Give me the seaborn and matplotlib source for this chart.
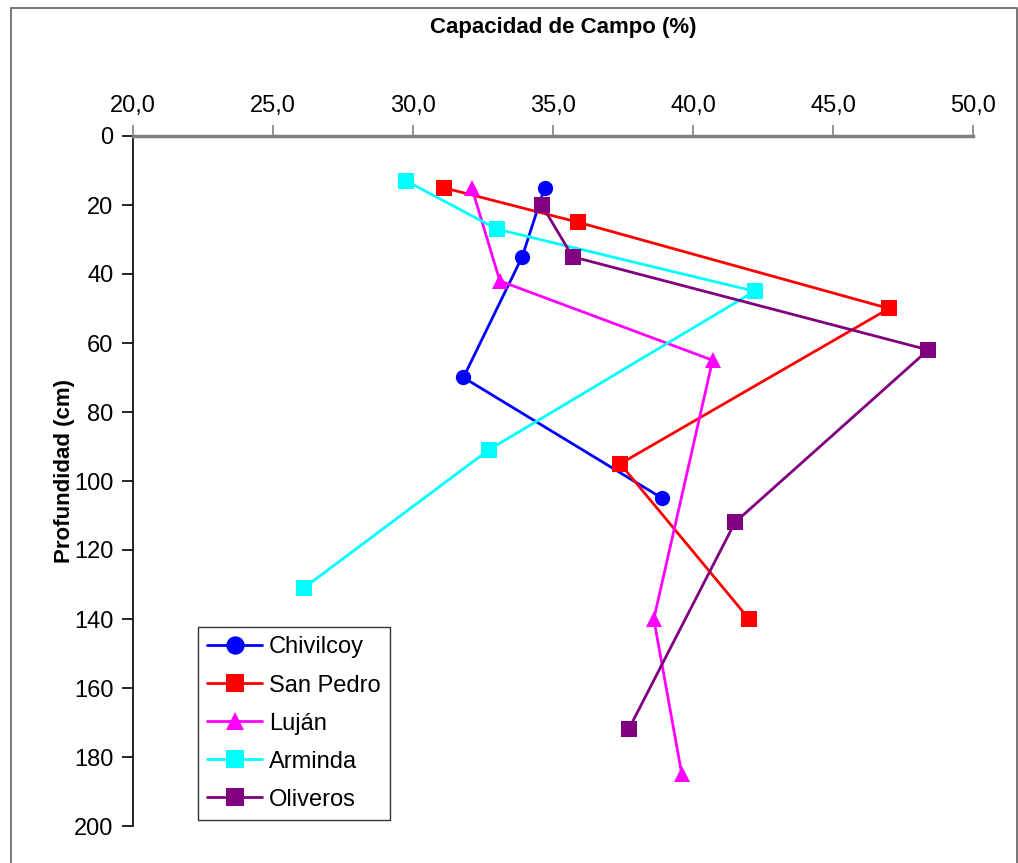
import matplotlib
matplotlib.use("Agg")
import matplotlib.pyplot as plt
import seaborn as sns
import pandas as pd
from matplotlib.patches import Rectangle
from matplotlib.ticker import FuncFormatter

# Field capacity (%) against depth (cm) for each site
chivilcoy_cc = [34.7, 33.9, 31.8, 38.9]
chivilcoy_depth = [15, 35, 70, 105]

san_pedro_cc = [31.1, 35.9, 47.0, 37.4, 42.0]
san_pedro_depth = [15, 25, 50, 95, 140]

lujan_cc = [32.1, 33.1, 40.7, 38.6, 39.6]
lujan_depth = [15, 42, 65, 140, 185]

arminda_cc = [29.75, 33.0, 42.2, 32.7, 26.1]
arminda_depth = [13, 27, 45, 91, 131]

oliveros_cc = [34.6, 35.7, 48.4, 41.5, 37.7]
oliveros_depth = [20, 35, 62, 112, 172]

sites = ["Chivilcoy", "San Pedro", "Luján", "Arminda", "Oliveros"]
site_colors = ["#0000FF", "#FF0000", "#FF00FF", "#00FFFF", "#800080"]
site_markers = ["o", "s", "^", "s", "s"]

x_ticks = [20, 25, 30, 35, 40, 45, 50]
y_ticks = [0, 20, 40, 60, 80, 100, 120, 140, 160, 180, 200]

series = {
    "Chivilcoy": (chivilcoy_cc, chivilcoy_depth),
    "San Pedro": (san_pedro_cc, san_pedro_depth),
    "Luján": (lujan_cc, lujan_depth),
    "Arminda": (arminda_cc, arminda_depth),
    "Oliveros": (oliveros_cc, oliveros_depth),
}
rows = []
for name, (cc, depth) in series.items():
    for order, (c, d) in enumerate(zip(cc, depth)):
        rows.append({"Sitio": name, "cc": c, "prof": d, "orden": order})
df = pd.DataFrame(rows)

sns.set_style("white")
plt.rcParams["font.family"] = ["Liberation Sans", "DejaVu Sans"]
plt.rcParams["text.color"] = "black"
plt.rcParams["xtick.color"] = "black"
plt.rcParams["ytick.color"] = "black"
plt.rcParams["axes.labelcolor"] = "black"

fig = plt.figure(figsize=(10.18, 8.63), dpi=100)
ax = fig.add_axes([133 / 1018, 1 - 826 / 863, 840 / 1018, 690 / 863])

# outer chart frame
fig.patches.append(Rectangle((11 / 1018, -0.01), 1006 / 1018, 1 - 8 / 863 + 0.01,
                             transform=fig.transFigure, fill=False,
                             edgecolor="#606060", linewidth=1.2, zorder=0))

sns.lineplot(data=df, x="cc", y="prof", hue="Sitio", style="Sitio",
             hue_order=sites, style_order=sites,
             palette=dict(zip(sites, site_colors)),
             markers=dict(zip(sites, site_markers)), dashes=False,
             sort=False, estimator=None, units="Sitio",
             linewidth=2.0, markersize=11, markeredgewidth=0,
             ax=ax, legend=True)

ax.set_xlim(20, 50)
ax.set_ylim(200, 0)
ax.set_xticks(x_ticks)
ax.set_yticks(y_ticks)
ax.xaxis.set_major_formatter(FuncFormatter(lambda v, p: f"{v:.1f}".replace(".", ",")))
ax.xaxis.tick_top()
ax.tick_params(axis="x", which="both", top=True, bottom=False, direction="out",
               length=8, width=1.2, color="#808080", labelcolor="black",
               labelsize=17, pad=6)
ax.tick_params(axis="y", direction="out", length=8, width=1.2, color="black",
               labelcolor="black", labelsize=17, left=True, pad=6)

for s in ["right", "bottom"]:
    ax.spines[s].set_visible(False)
ax.spines["top"].set_color("#808080")
ax.spines["top"].set_linewidth(2.5)
ax.spines["left"].set_color("black")
ax.spines["left"].set_linewidth(1.2)

ax.set_xlabel("")
ax.set_ylabel("Profundidad (cm)", fontsize=16, fontweight="bold", color="black")
ax.yaxis.set_label_coords(-0.069, (826 - 471) / 690)
fig.text(563 / 1018, 1 - 27 / 863, "Capacidad de Campo (%)", ha="center", va="center",
         fontsize=16, fontweight="bold", color="black")

leg = ax.legend(loc="upper left", bbox_to_anchor=((198 - 133) / 840, (826 - 627) / 690),
                fontsize=17, frameon=True, fancybox=False, shadow=False,
                handlelength=2.3, handletextpad=0.3, labelspacing=0.68,
                borderpad=0.4, borderaxespad=0, markerscale=1.2)
leg.get_frame().set_edgecolor("black")
leg.get_frame().set_linewidth(1.0)
for t in leg.get_texts():
    t.set_color("black")

fig.savefig("out.png", dpi=100, facecolor="white")
